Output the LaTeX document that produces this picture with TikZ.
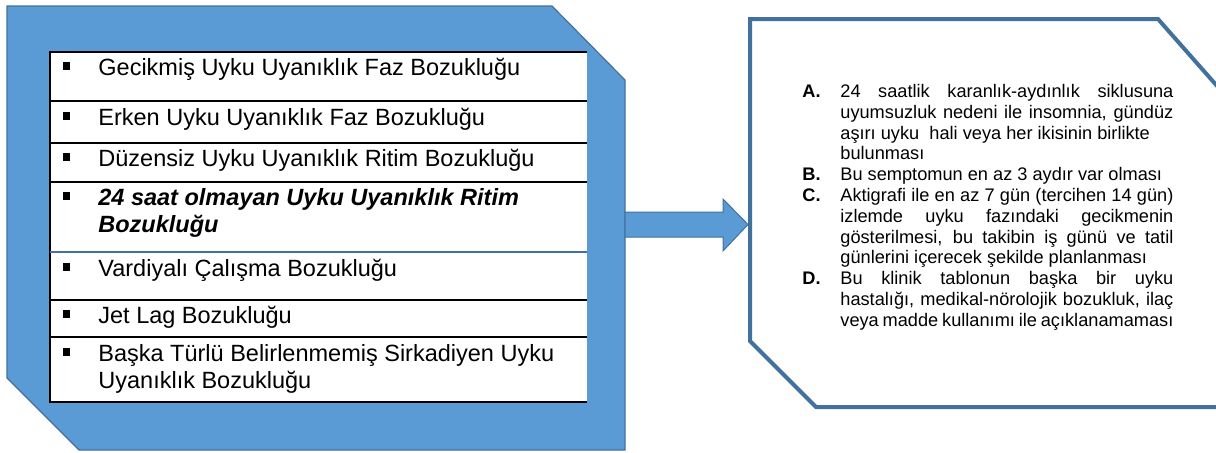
\documentclass[tikz,border=0pt]{standalone}
\usepackage{fontspec}
\setmainfont{Liberation Sans}

\definecolor{panelblue}{HTML}{5B9BD5}
\definecolor{edgeblue}{HTML}{41719C}

\newcommand{\rowfont}{\fontsize{11.75pt}{13.5pt}\selectfont}
\newcommand{\critfont}{\fontsize{9.1pt}{10.4pt}\selectfont}
\newcommand{\critlabel}[1]{\hangindent=19pt\hangafter=1\noindent\makebox[19pt][l]{\textbf{#1}}}

\begin{document}
\begin{tikzpicture}[x=0.5pt, y=-0.5pt,
  panel/.style    = {fill=panelblue, draw=edgeblue, line width=0.6pt},
  rowtxt/.style   = {anchor=base west, inner sep=0pt, align=left, font=\rowfont},
  bul/.style      = {fill=black, inner sep=0pt, minimum size=3.6pt},
  rowline/.style  = {black, line width=0.7pt},
  crit/.style     = {anchor=north west, inner sep=0pt, text width=185.5pt,
                     align=justify, font=\critfont},
  blockarr/.style = {fill=panelblue, draw=edgeblue, line width=0.5pt}
]
  \useasboundingbox (0,0) rectangle (1216,452);
  \clip (0,0) rectangle (1216,452);

  % Left panel
  \draw[panel] (7,6) -- (552,6) -- (625,80) -- (625,450) -- (79,450) -- (7,378) -- cycle;
  \coordinate (lpE) at (625,224.5);

  % Table of disorders
  \fill[white] (50,52) rectangle (587,402);
  \draw[rowline] (587,52) -- (50,52) -- (50,402) -- (587,402);
  \foreach \yy in {101,143,182,300,337}
    \draw[rowline] (50,\yy) -- (587,\yy);
  \draw[edgeblue, line width=1.1pt] (50,252) -- (587,252);

  % Rows (two-line rows sit on the baseline of their last line)
  \node[bul] (b1) at (66.5,66)  {};
  \node[rowtxt] (t1) at (98,75)  {Gecikmiş Uyku Uyanıklık Faz Bozukluğu};
  \node[bul] (b2) at (66.5,116) {};
  \node[rowtxt] (t2) at (98,125) {Erken Uyku Uyanıklık Faz Bozukluğu};
  \node[bul] (b3) at (66.5,157) {};
  \node[rowtxt] (t3) at (98,166) {Düzensiz Uyku Uyanıklık Ritim Bozukluğu};
  \node[bul] (b4) at (66.5,196) {};
  \node[rowtxt, font=\rowfont\bfseries\itshape] (t4) at (98,232)
    {24 saat olmayan Uyku Uyanıklık Ritim\\Bozukluğu};
  \node[bul] (b5) at (66.5,267) {};
  \node[rowtxt] (t5) at (98,276) {Vardiyalı Çalışma Bozukluğu};
  \node[bul] (b6) at (66.5,314) {};
  \node[rowtxt] (t6) at (98,323) {Jet Lag Bozukluğu};
  \node[bul] (b7) at (66.5,352) {};
  \node[rowtxt] (t7) at (98,388) {Başka Türlü Belirlenmemiş Sirkadiyen Uyku\\Uyanıklık Bozukluğu};

  % Right panel corner
  \coordinate (rpW) at (748,224.5);

  % Block arrow
  \draw[blockarr] (lpE) ++(0,-12.5) -- ++(98,0) -- ++(0,-13) -- (rpW)
    -- ++(-25,26.5) -- ++(0,-14) -- ++(-98,0) -- cycle;

  % Right panel
  \draw[edgeblue, line width=2pt, fill=white]
    (750,19) -- (1158,19) -- (1240,112) -- (1240,407) -- (816,407) -- (750,341) -- cycle;

  % Criteria
  \node[crit] (crit) at (802,84) {\hyphenpenalty=10000\exhyphenpenalty=10000\tolerance=10000
    \critlabel{A.}24 saatlik karanlık-aydınlık siklusuna\linebreak
    uyumsuzluk nedeni ile insomnia, gündüz\linebreak
    aşırı uyku\ \ hali veya her ikisinin birlikte\newline
    bulunması\par
    \critlabel{B.}Bu semptomun en az 3 aydır var olması\par
    \critlabel{C.}Aktigrafi ile en az 7 gün (tercihen 14 gün)\linebreak
    izlemde uyku fazındaki gecikmenin\linebreak
    gösterilmesi, bu takibin iş günü ve tatil\linebreak
    günlerini içerecek şekilde planlanması\par
    \critlabel{D.}Bu klinik tablonun başka bir uyku\linebreak
    hastalığı, medikal-nörolojik bozukluk, ilaç\linebreak
    veya madde kullanımı ile açıklanamaması\par};
\end{tikzpicture}
\end{document}
